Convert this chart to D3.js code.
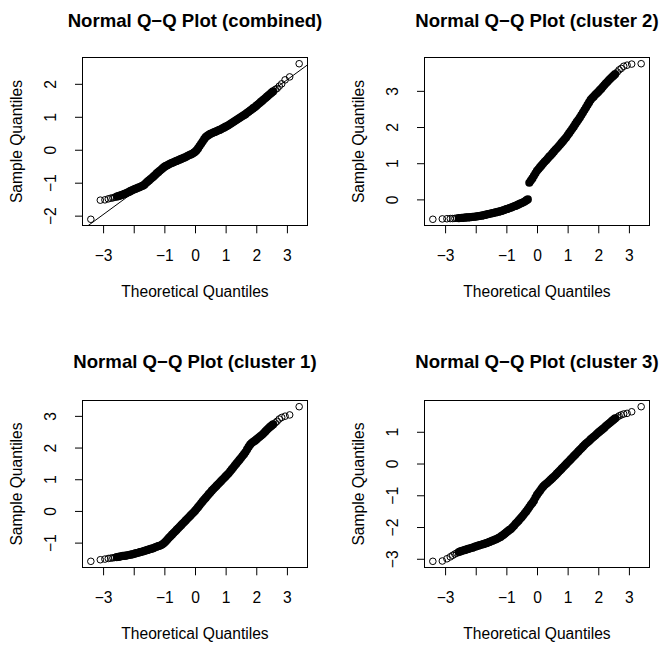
<!DOCTYPE html>
<html><head><meta charset="utf-8">
<script src="https://cdn.jsdelivr.net/npm/d3@7/dist/d3.min.js"></script>
<style>
body{margin:0;background:#fff}
svg{display:block}
text{font-family:"Liberation Sans",Arial,Helvetica,sans-serif;fill:#000}
</style>
</head><body>
<svg id="chart" width="660" height="645"></svg>
<script>
// ---------- data ----------
const panelTitles = [
  "Normal Q\u2212Q Plot (combined)",
  "Normal Q\u2212Q Plot (cluster 2)",
  "Normal Q\u2212Q Plot (cluster 1)",
  "Normal Q\u2212Q Plot (cluster 3)"
];
const xAxisTitle = "Theoretical Quantiles";
const yAxisTitle = "Sample Quantiles";
const xTicks = [-3, -2, -1, 0, 1, 2, 3];
const xTickLabels = ["\u22123", "", "\u22121", "0", "1", "2", "3"];
const yTicksCombined = [-2, -1, 0, 1, 2];
const yTicksCluster2 = [0, 1, 2, 3];
const yTicksCluster1 = [-1, 0, 1, 2, 3];
const yTicksCluster3 = [-3, -2, -1, 0, 1];

// theoretical quantiles at which the sample quantiles were read
const theoQuantiles = [
  -3.40,-3.09,-2.94,-2.83,-2.75,-2.68,-2.62,
  -2.55,-2.50,-2.45,-2.40,-2.35,-2.30,-2.25,-2.20,-2.15,-2.10,
  -2.05,-2.00,-1.95,-1.90,-1.85,-1.80,-1.75,-1.70,-1.65,-1.60,
  -1.55,-1.50,-1.45,-1.40,-1.35,-1.30,-1.25,-1.20,-1.15,-1.10,
  -1.05,-1.00,-0.95,-0.90,-0.85,-0.80,-0.75,-0.70,-0.65,-0.60,
  -0.55,-0.50,-0.45,-0.40,-0.35,-0.30,-0.25,-0.20,-0.15,-0.10,
  -0.05,0.00,0.05,0.10,0.15,0.20,0.25,0.30,0.35,0.40,
  0.45,0.50,0.55,0.60,0.65,0.70,0.75,0.80,0.85,0.90,
  0.95,1.00,1.05,1.10,1.15,1.20,1.25,1.30,1.35,1.40,
  1.45,1.50,1.55,1.60,1.65,1.70,1.75,1.80,1.85,1.90,
  1.95,2.00,2.05,2.10,2.15,2.20,2.25,2.30,2.35,2.40,
  2.45,2.50,2.55,
  2.62,2.68,2.75,2.83,2.94,3.09,3.40
];

const sampleCombined = [
  -2.11,-1.53,-1.52,-1.49,-1.47,-1.46,-1.44,
  -1.42,-1.41,-1.39,-1.38,-1.36,-1.34,-1.32,-1.30,-1.28,-1.25,
  -1.23,-1.21,-1.19,-1.17,-1.15,-1.13,-1.11,-1.09,-1.06,-1.01,
  -0.97,-0.93,-0.89,-0.85,-0.81,-0.77,-0.72,-0.68,-0.64,-0.60,
  -0.56,-0.52,-0.49,-0.47,-0.44,-0.42,-0.40,-0.38,-0.36,-0.34,
  -0.32,-0.30,-0.28,-0.26,-0.24,-0.22,-0.19,-0.17,-0.15,-0.13,
  -0.10,-0.07,-0.02,0.04,0.11,0.18,0.25,0.32,0.38,0.42,
  0.45,0.48,0.50,0.52,0.54,0.56,0.58,0.60,0.62,0.65,
  0.67,0.70,0.72,0.75,0.78,0.81,0.84,0.87,0.90,0.93,
  0.96,0.99,1.02,1.05,1.08,1.12,1.15,1.19,1.22,1.26,
  1.29,1.33,1.37,1.41,1.45,1.49,1.53,1.57,1.61,1.65,
  1.69,1.73,1.77,
  1.83,1.86,1.93,2.00,2.12,2.21,2.61
];
const sampleCluster2 = [
  -0.55,-0.54,-0.535,-0.53,-0.53,-0.525,-0.52,
  -0.52,-0.515,-0.51,-0.51,-0.505,-0.50,-0.50,-0.495,-0.49,-0.485,
  -0.48,-0.475,-0.47,-0.46,-0.455,-0.45,-0.44,-0.43,-0.42,-0.41,
  -0.40,-0.39,-0.38,-0.37,-0.36,-0.35,-0.34,-0.33,-0.32,-0.30,
  -0.29,-0.27,-0.26,-0.24,-0.23,-0.21,-0.19,-0.18,-0.16,-0.14,
  -0.12,-0.10,-0.08,-0.06,-0.03,0.00,0.46,0.52,0.58,0.65,
  0.72,0.79,0.84,0.89,0.94,0.99,1.04,1.08,1.13,1.18,
  1.22,1.27,1.32,1.37,1.41,1.46,1.51,1.56,1.61,1.66,
  1.71,1.77,1.83,1.89,1.95,2.01,2.08,2.14,2.20,2.26,
  2.33,2.40,2.47,2.54,2.61,2.68,2.75,2.80,2.84,2.89,
  2.93,2.97,3.02,3.06,3.11,3.16,3.21,3.25,3.30,3.34,
  3.38,3.42,3.46,
  3.52,3.58,3.62,3.68,3.71,3.74,3.75
];
const sampleCluster1 = [
  -1.59,-1.54,-1.52,-1.50,-1.49,-1.48,-1.47,
  -1.455,-1.45,-1.44,-1.43,-1.42,-1.42,-1.41,-1.40,-1.39,-1.38,
  -1.37,-1.36,-1.34,-1.33,-1.32,-1.30,-1.29,-1.28,-1.26,-1.25,
  -1.23,-1.22,-1.20,-1.19,-1.17,-1.15,-1.13,-1.11,-1.10,-1.075,
  -1.045,-1.005,-0.96,-0.905,-0.85,-0.80,-0.75,-0.70,-0.65,-0.60,
  -0.55,-0.50,-0.45,-0.40,-0.35,-0.30,-0.25,-0.20,-0.15,-0.10,
  -0.05,0.00,0.06,0.12,0.18,0.24,0.30,0.36,0.41,0.47,
  0.53,0.58,0.64,0.69,0.74,0.79,0.84,0.89,0.94,0.99,
  1.04,1.09,1.14,1.19,1.25,1.31,1.37,1.43,1.49,1.55,
  1.61,1.67,1.73,1.79,1.86,1.94,2.02,2.09,2.14,2.18,
  2.21,2.25,2.29,2.33,2.37,2.41,2.46,2.51,2.56,2.61,
  2.65,2.69,2.73,
  2.78,2.83,2.90,2.95,2.99,3.03,3.29
];
const sampleCluster3 = [
  -3.08,-3.07,-3.00,-2.94,-2.89,-2.85,-2.82,
  -2.79,-2.77,-2.75,-2.74,-2.72,-2.71,-2.69,-2.68,-2.66,-2.65,
  -2.63,-2.61,-2.60,-2.58,-2.57,-2.55,-2.54,-2.52,-2.51,-2.49,
  -2.47,-2.45,-2.43,-2.41,-2.39,-2.37,-2.34,-2.32,-2.28,-2.25,
  -2.21,-2.17,-2.13,-2.09,-2.06,-2.01,-1.96,-1.90,-1.85,-1.80,
  -1.74,-1.69,-1.63,-1.57,-1.51,-1.44,-1.37,-1.30,-1.24,-1.17,
  -1.07,-0.99,-0.92,-0.86,-0.79,-0.73,-0.68,-0.64,-0.60,-0.55,
  -0.51,-0.46,-0.42,-0.37,-0.32,-0.27,-0.22,-0.17,-0.12,-0.07,
  -0.02,0.03,0.08,0.13,0.18,0.23,0.28,0.33,0.38,0.43,
  0.48,0.53,0.58,0.63,0.67,0.71,0.76,0.80,0.84,0.88,
  0.93,0.97,1.01,1.05,1.09,1.13,1.18,1.22,1.26,1.30,
  1.34,1.38,1.42,
  1.46,1.50,1.53,1.56,1.58,1.63,1.79
];
// reference line (intercept, slope) of the combined plot
const qqlineCombined = [0.074, 0.681];

// ---------- layout ----------
const panels = [
  {title: panelTitles[0], sample: sampleCombined, yTicks: yTicksCombined, line: qqlineCombined,
   left: 82.5, top: 57.5, right: 307.5, bottom: 225.5, titleY: 26.7},
  {title: panelTitles[1], sample: sampleCluster2, yTicks: yTicksCluster2, line: null,
   left: 424.5, top: 57.5, right: 649.5, bottom: 225.5, titleY: 26.7},
  {title: panelTitles[2], sample: sampleCluster1, yTicks: yTicksCluster1, line: null,
   left: 82.5, top: 400.5, right: 307.5, bottom: 567.5, titleY: 367.5},
  {title: panelTitles[3], sample: sampleCluster3, yTicks: yTicksCluster3, line: null,
   left: 424.5, top: 400.5, right: 649.5, bottom: 567.5, titleY: 367.5}
];

const svg = d3.select("#chart");
svg.append("rect").attr("width", 660).attr("height", 645).attr("fill", "#fff");

const FS = 15.6, TFS = 18.6;
function extend(ext) { const r = ext[1] - ext[0]; return [ext[0] - 0.04 * r, ext[1] + 0.04 * r]; }

panels.forEach((p, k) => {
  const g = svg.append("g");
  const n = theoQuantiles.length;
  const pts = theoQuantiles.map((t, i) => ({x: t, y: p.sample[i], tail: i < 7 || i >= n - 7}));
  const x = d3.scaleLinear().domain(extend(d3.extent(pts, d => d.x))).range([p.left, p.right]);
  const y = d3.scaleLinear().domain(extend(d3.extent(pts, d => d.y))).range([p.bottom, p.top]);
  const cx = (p.left + p.right) / 2, cy = (p.top + p.bottom) / 2;

  const clipId = "clip" + k;
  svg.append("clipPath").attr("id", clipId).append("rect")
    .attr("x", p.left).attr("y", p.top).attr("width", p.right - p.left).attr("height", p.bottom - p.top);

  // points: the densely packed body is drawn with a heavier ring so it reads as the solid band
  g.append("g").selectAll("circle").data(pts).join("circle")
    .attr("cx", d => x(d.x)).attr("cy", d => y(d.y))
    .attr("r", d => d.tail ? 3.3 : 2.5)
    .attr("fill", "none").attr("stroke", "#000")
    .attr("stroke-width", d => d.tail ? 1.0 : 3.2);

  if (p.line) {
    const [a, b] = p.line;
    const xd = x.domain();
    g.append("line").attr("clip-path", `url(#${clipId})`)
      .attr("x1", x(xd[0])).attr("y1", y(a + b * xd[0]))
      .attr("x2", x(xd[1])).attr("y2", y(a + b * xd[1]))
      .attr("stroke", "#000").attr("stroke-width", 1);
  }

  g.append("rect").attr("x", p.left).attr("y", p.top)
    .attr("width", p.right - p.left).attr("height", p.bottom - p.top)
    .attr("fill", "none").attr("stroke", "#000").attr("stroke-width", 1);

  const xa = g.append("g").attr("transform", `translate(0,${p.bottom})`)
    .call(d3.axisBottom(x).tickValues(xTicks).tickFormat((d, i) => xTickLabels[i]).tickSize(7.8).tickSizeOuter(0));
  xa.select(".domain").remove();
  xa.selectAll(".tick line").attr("stroke", "#000").attr("stroke-width", 1);
  xa.selectAll(".tick text").attr("y", 35.7).attr("dy", 0).attr("font-size", FS)
    .attr("font-family", null).attr("fill", "#000");

  const ya = g.append("g").attr("transform", `translate(${p.left},0)`)
    .call(d3.axisLeft(y).tickValues(p.yTicks).tickFormat(d => d < 0 ? "\u2212" + Math.abs(d) : String(d)).tickSize(7.5).tickSizeOuter(0));
  ya.select(".domain").remove();
  ya.selectAll(".tick line").attr("stroke", "#000").attr("stroke-width", 1);
  ya.selectAll(".tick text").attr("x", 0).attr("y", 0).attr("dy", 0)
    .attr("transform", "translate(-26.5,0) rotate(-90)").attr("text-anchor", "middle")
    .attr("font-size", FS).attr("font-family", null).attr("fill", "#000");

  g.append("text").attr("x", cx).attr("y", p.titleY).attr("text-anchor", "middle")
    .attr("font-size", TFS).attr("font-weight", "bold").text(p.title);
  g.append("text").attr("x", cx).attr("y", p.bottom + 71.4).attr("text-anchor", "middle")
    .attr("font-size", FS).text(xAxisTitle);
  g.append("text").attr("transform", `translate(${p.left - 61},${cy}) rotate(-90)`)
    .attr("text-anchor", "middle").attr("font-size", FS).text(yAxisTitle);
});
</script>
</body></html>
